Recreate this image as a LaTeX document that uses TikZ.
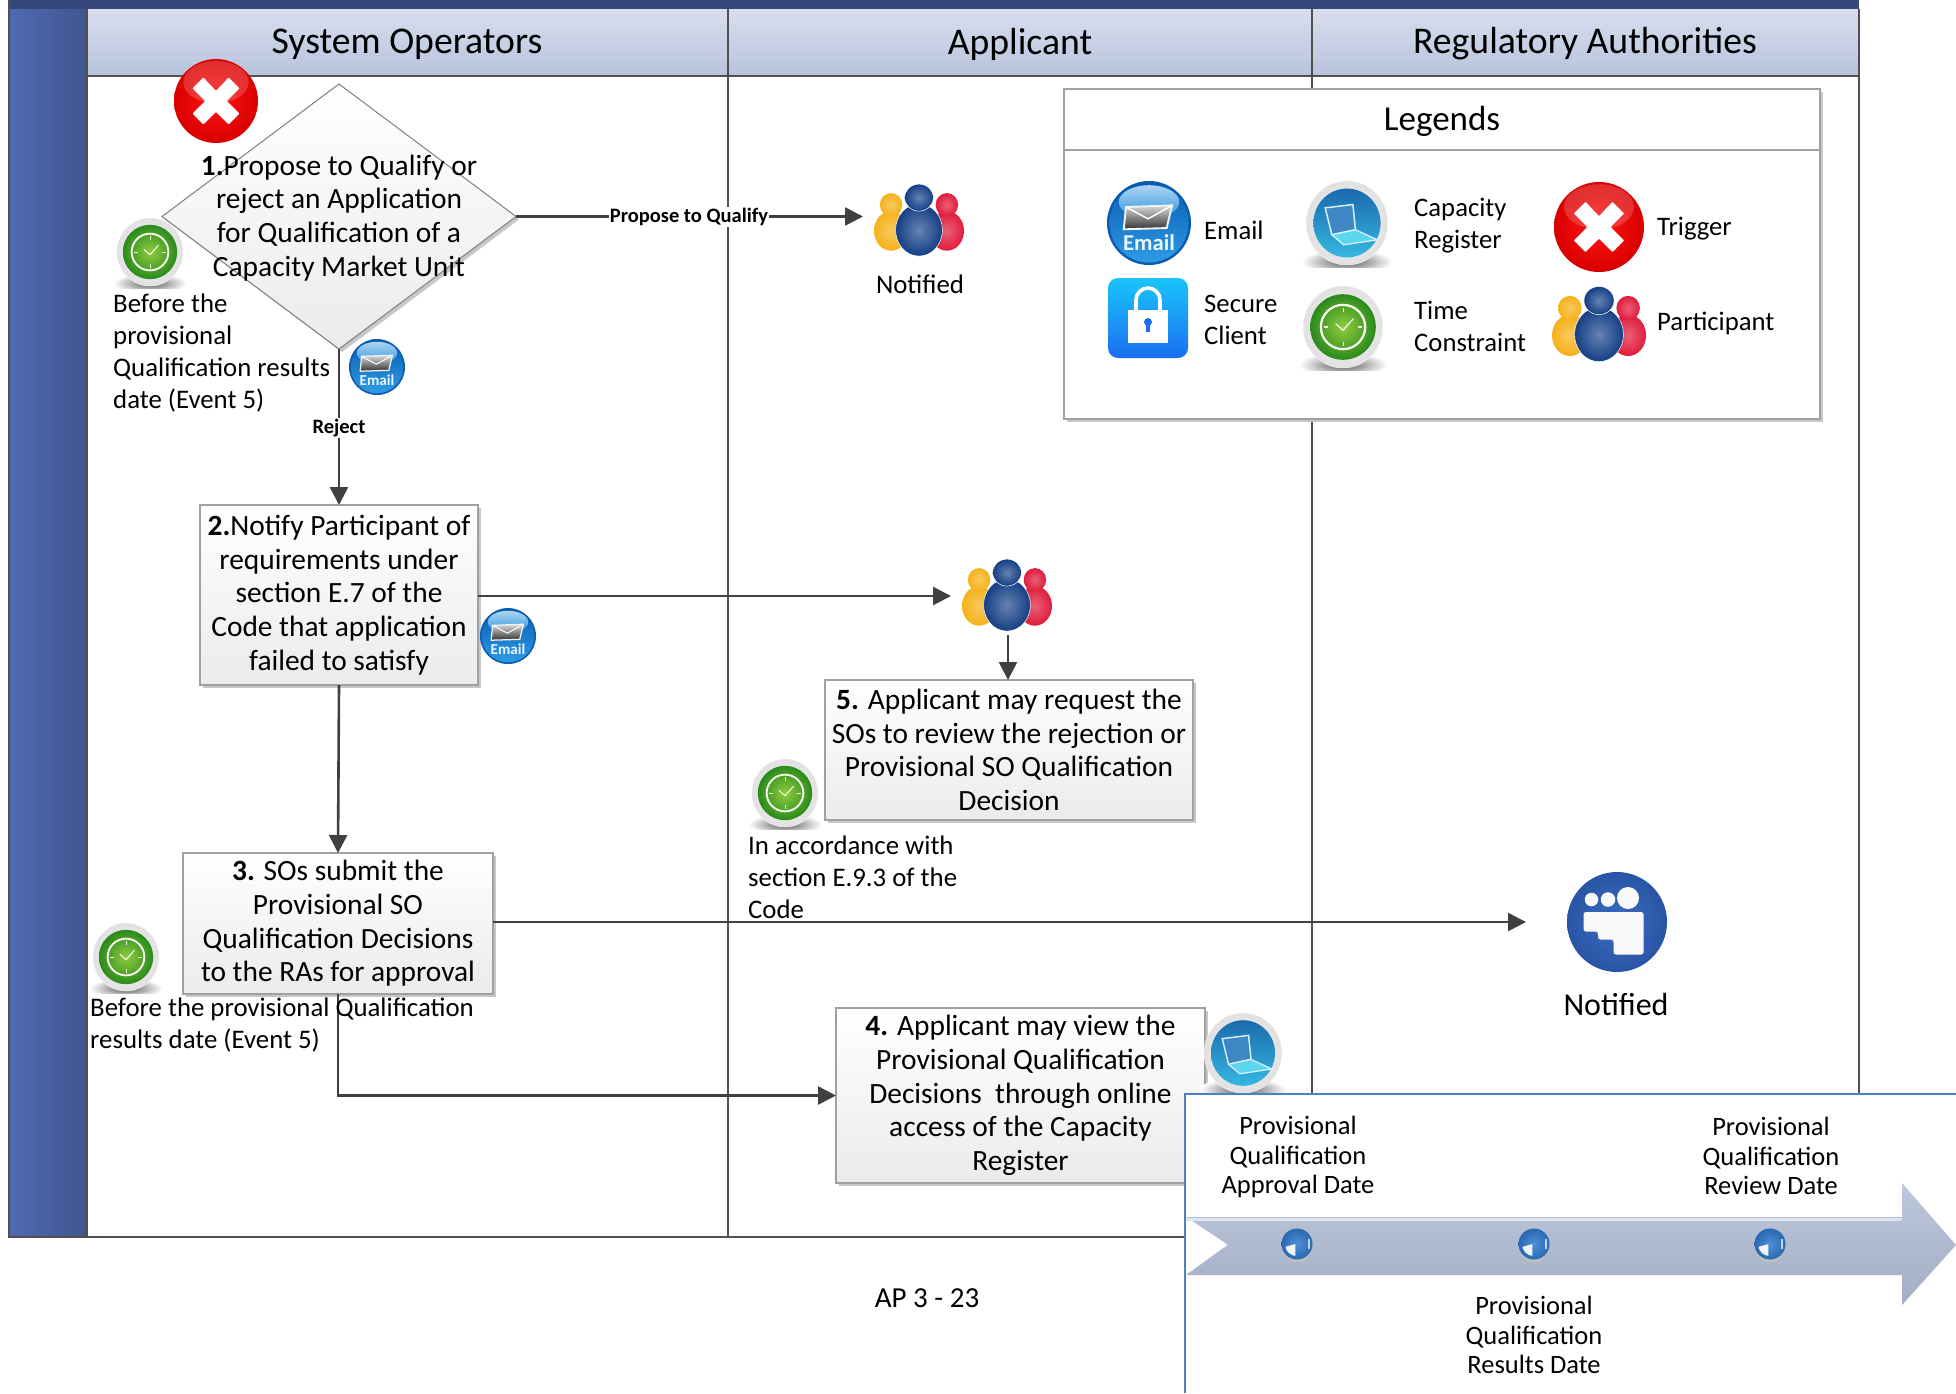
\documentclass[tikz,border=0pt]{standalone}
\usepackage{fontspec}
\setmainfont{Carlito}
\usetikzlibrary{arrows.meta,shadows,shapes.geometric}
\definecolor{barc}{HTML}{36477A}
\definecolor{bandl}{HTML}{5069B2}
\definecolor{bandr}{HTML}{40568F}
\definecolor{headt}{HTML}{D9DEEE}
\definecolor{headb}{HTML}{B7C3DC}
\definecolor{framec}{HTML}{505050}
\definecolor{edgec}{HTML}{A0A0A0}
\definecolor{boxb}{HTML}{EBEBEB}
\definecolor{panelc}{HTML}{4F81BD}
\definecolor{arrowt}{HTML}{BDC8DC}
\definecolor{arrowb}{HTML}{A3ADC3}
\definecolor{arrowl}{HTML}{DCE4F2}
\definecolor{clinec}{HTML}{404040}
\definecolor{mailedge}{HTML}{0A5CB0}
\definecolor{mailmid}{HTML}{2E9BE6}
\definecolor{locktop}{HTML}{1AC4FA}
\definecolor{lockbot}{HTML}{1B6FF0}
\definecolor{clockin}{HTML}{8FCC3F}
\definecolor{clockout}{HTML}{2A8A1C}
\definecolor{regtop}{HTML}{1A6AAD}
\definecolor{regbot}{HTML}{35B8E0}
\definecolor{regscreen}{HTML}{3E86C4}
\definecolor{regkeys}{HTML}{5CD6EE}
\definecolor{grpy}{HTML}{F5B21A}
\definecolor{grpr}{HTML}{E01C3C}
\definecolor{grpb}{HTML}{143F85}
\definecolor{peoin}{HTML}{3A6CC0}
\definecolor{peoout}{HTML}{2A55A5}
\definecolor{dotc}{HTML}{2F7BD0}
\newcommand\fStep{\fontsize{29.4}{33.7}\selectfont}
\newcommand\fHead{\fontsize{37.7}{42}\selectfont}
\newcommand\fNote{\fontsize{26.8}{31.8}\selectfont}
\newcommand\fLane{\fontsize{26.5}{29.5}\selectfont}
\newcommand\fLeg{\fontsize{26.7}{32}\selectfont}
\tikzset{
  x=1pt,y=-1pt,
  stepshape/.style={draw=edgec,line width=1.2pt,top color=white,bottom color=boxb,
    drop shadow={shadow xshift=3pt,shadow yshift=-3pt,fill=black!22,opacity=1},
    inner sep=0pt,outer sep=0pt,align=center,font=\fStep,text=black},
  notetext/.style={inner sep=0pt,anchor=west,align=left,font=\fNote,text=black},
  centertext/.style={inner sep=0pt,align=center,text=black},
  lanehead/.style={inner sep=0pt,font=\fHead,text=black},
  lane/.style={draw=framec,line width=2pt},
  flow/.style={draw=clinec,line width=2.6pt,-{Triangle[length=18pt,width=18pt]}},
  flowlabel/.style={inner sep=1pt,fill=white,font=\fontsize{20.5}{23}\selectfont\bfseries,text=black},
  iconspot/.style={circle,inner sep=0pt,outer sep=0pt,minimum size=#1},
  timelab/.style={inner sep=0pt,align=center,font=\fLane,text=black},
}
% icons: #1 x, #2 y, #3 radius
\newcommand\IconEmail[3]{\begin{scope}[shift={(#1,#2)},scale=#3]
  \fill[mailedge] (0,0) ellipse [x radius=1,y radius=1];
  \shade[top color=mailedge,bottom color=mailmid] (0,0) ellipse [x radius=.94,y radius=.94];
  \shade[top color=white!70!mailmid,bottom color=mailmid,opacity=.9] (0,-.5) ellipse [x radius=.72,y radius=.4];
  \shade[top color=gray!30,bottom color=black!80,draw=white!90!gray,line width=.045*#3 pt] (-.55,-.38)--(.55,-.42)--(.42,.12)--(-.6,.15)--cycle;
  \draw[white,line width=.035*#3 pt] (-.55,-.38)--(-.02,-.1)--(.55,-.42);
  \node[inner sep=0pt,text=white!90!mailmid,font=\fontsize{\dimexpr #3pt*54/100\relax}{\dimexpr #3pt*60/100\relax}\selectfont\bfseries] at (0,.46) {Email};
\end{scope}}
\newcommand\IconTrigger[3]{\begin{scope}[shift={(#1,#2)},scale=#3]
  \shade[inner color=red!92!white,outer color=red!85!black] (0,0) ellipse [x radius=1,y radius=1];
  \fill[white,opacity=.18] (0,-.45) ellipse [x radius=.78,y radius=.5];
  \fill[white,rounded corners=.02*#3 pt] (-.56,-.3)--(-.3,-.56)--(0,-.24)--(.3,-.56)--(.56,-.3)--(.26,0)--(.56,.3)--(.3,.56)--(0,.26)--(-.3,.56)--(-.56,.3)--(-.26,0)--cycle;
\end{scope}}
\newcommand\Ring{%
  \begin{scope}
    \clip (-1.08,.2) rectangle (1.08,1.07);
    \shade[inner color=black!65,outer color=white] (0,.92) ellipse [x radius=1.08,y radius=.3];
  \end{scope}
  \shade[inner color=gray!4,outer color=gray!24,draw=gray!10,line width=.5pt] (0,0) ellipse [x radius=.97,y radius=1];}
\newcommand\IconClock[3]{\begin{scope}[shift={(#1,#2)},scale=#3]
  \Ring
  \shade[inner color=clockin,outer color=clockout] (0,0) ellipse [x radius=.8,y radius=.8];
  \draw[white!92!clockin,line width=.055*#3 pt] (0,0) ellipse [x radius=.54,y radius=.54];
  \draw[white!90!clockin,line width=.03*#3 pt] (-.18,-.08)--(0,.08)--(.25,-.2);
  \foreach \a in {0,90,180,270}{\draw[white!85!clockin,line width=.025*#3 pt] (\a:.36)--(\a:.46);}
\end{scope}}
\newcommand\IconRegister[3]{\begin{scope}[shift={(#1,#2)},scale=#3]
  \Ring
  \shade[top color=regtop,bottom color=regbot] (0,0) ellipse [x radius=.8,y radius=.82];
  \draw[white!85!cyan,fill=regscreen,line width=.035*#3 pt] (-.52,-.36)--(.14,-.44)--(.2,.16)--(-.36,.28)--cycle;
  \draw[white!85!cyan,fill=regkeys,line width=.03*#3 pt] (-.36,.28)--(.2,.16)--(.72,.4)--(-.08,.52)--cycle;
\end{scope}}
\newcommand\IconGroup[3]{\begin{scope}[shift={(#1,#2)},scale=#3]
  \shade[inner color=grpy!70!white,outer color=grpy] (-.62,.22) ellipse [x radius=.38,y radius=.44];
  \shade[inner color=grpy!70!white,outer color=grpy] (-.62,-.36) ellipse [x radius=.25,y radius=.26];
  \shade[inner color=grpr!70!white,outer color=grpr] (.62,.22) ellipse [x radius=.38,y radius=.44];
  \shade[inner color=grpr!70!white,outer color=grpr] (.62,-.36) ellipse [x radius=.25,y radius=.26];
  \draw[white,line width=.5pt,inner color=grpb!65!white,outer color=grpb] (0,.2) ellipse [x radius=.52,y radius=.58];
  \draw[white,line width=.5pt,inner color=grpb!65!white,outer color=grpb] (0,-.52) ellipse [x radius=.32,y radius=.3];
\end{scope}}
\newcommand\IconLock[3]{\begin{scope}[shift={(#1,#2)},scale=#3]
  \shade[top color=locktop,bottom color=lockbot,rounded corners=.25*#3 pt] (-1,-1) rectangle (1,1);
  \draw[white,line width=.09*#3 pt] (-.3,-.15)--(-.3,-.45) arc[start angle=180,end angle=0,x radius=.3,y radius=-.3]--(.3,-.15);
  \fill[white] (-.5,-.2) rectangle (.5,.63);
  \fill[lockbot] (0,.1) circle [radius=.1];
  \fill[lockbot] (-.04,.1) rectangle (.04,.36);
\end{scope}}
\newcommand\IconPeople[3]{\begin{scope}[shift={(#1,#2)},scale=#3]
  \shade[inner color=peoin,outer color=peoout] (0,0) ellipse [x radius=1,y radius=1];
  \fill[white!95!gray] (-.51,-.45) circle [radius=.135];
  \fill[white!95!gray] (-.18,-.45) circle [radius=.145];
  \fill[white!95!gray] (.22,-.48) circle [radius=.22];
  \fill[white!95!gray,rounded corners=.05*#3 pt] (-.67,.19)--(-.67,-.2)--(.53,-.2)--(.53,.65)--(-.07,.65)--(-.07,.35)--(-.38,.35)--(-.38,.19)--cycle;
\end{scope}}
\newcommand\IconDot[3]{\begin{scope}[shift={(#1,#2)},scale=#3]
  \fill[black!25] (0,.15) ellipse [x radius=.98,y radius=1.02];
  \shade[inner color=dotc!85!white,outer color=dotc!85!black] (0,0) ellipse [x radius=1,y radius=1];
  \begin{scope}
    \clip (0,0) ellipse [x radius=.78,y radius=.78];
    \fill[white,opacity=.92] (-1,.25)--(-.1,0)--(-.1,1)--(-1,1)--cycle;
  \end{scope}
  \fill[white,opacity=.7] (.68,-.3) rectangle (.82,.35);
\end{scope}}
\begin{document}
\begin{tikzpicture}
\useasboundingbox (0,0) rectangle (1956,1393);
% swimlane frame
\path[left color=bandl,right color=bandr] (9,9) rectangle (87,1237);
\path[top color=headt,bottom color=headb] (87,9) rectangle (1859,76);
\fill[barc] (9,0) rectangle (1859,9);
\draw[lane] (9,0)--(9,1237)--(1859,1237)--(1859,9);
\draw[lane] (87,9)--(87,1237);
\draw[lane] (87,76)--(1859,76);
\draw[lane] (728,9)--(728,1237);
\draw[lane] (1312,9)--(1312,1237);
\node[lanehead] (hso) at (407,44) {System Operators};
\node[lanehead] (hap) at (1020,44) {Applicant};
\node[lanehead] (hra) at (1585,44) {Regulatory Authorities};
% legend
\node[draw=edgec,line width=1.3pt,fill=white,inner sep=0pt,minimum width=756pt,minimum height=330pt,
  drop shadow={shadow xshift=3pt,shadow yshift=-3pt,fill=black!22,opacity=1}] (legend) at (1442,254) {};
\coordinate (ldl) at (1442,150);
\draw[edgec,line width=1.3pt] (legend.west |- ldl) -- (legend.east |- ldl);
\node[centertext,font=\fontsize{35}{40}\selectfont] (legt) at (1442,121) {Legends};
\IconEmail{1149}{223}{42}
\IconRegister{1347}{223}{42}
\IconTrigger{1599}{227}{45}
\IconLock{1148}{318}{40}
\IconClock{1343}{327}{41}
\IconGroup{1599}{325}{47}
\node[notetext,font=\fLeg] (l1) at (1204,230) {Email};
\node[notetext,font=\fLeg] (l2) at (1414,226) {Capacity\\Register};
\node[notetext,font=\fLeg] (l3) at (1657,229) {Trigger};
\node[notetext,font=\fLeg] (l4) at (1204,320) {Secure\\Client};
\node[notetext,font=\fLeg] (l5) at (1414,326) {Time\\Constraint};
\node[notetext,font=\fLeg] (l6) at (1657,323) {Participant};
% flow nodes
\node[diamond,aspect=1.33,stepshape,minimum width=354pt,minimum height=265pt,draw=gray,line width=1pt] (d1) at (339,216.5) {};
\node[centertext,font=\fStep] (d1t) at (339,218) {\textbf{1.}Propose to Qualify or\\reject an Application\\for Qualification of a\\Capacity Market Unit};
\node[stepshape,minimum width=278pt,minimum height=180pt] (b2) at (339,595) {\textbf{2.}Notify Participant of\\requirements under\\section E.7 of the\\Code that application\\failed to satisfy};
\node[stepshape,minimum width=310pt,minimum height=141pt] (b3) at (338,923.5) {\textbf{3.} SOs submit the\\Provisional SO\\Qualification Decisions\\to the RAs for approval};
\node[stepshape,minimum width=369pt,minimum height=175pt] (b4) at (1020.5,1095.5) {\textbf{4.} Applicant may view the\\Provisional Qualification\\Decisions\ \ through online\\access of the Capacity\\Register};
\node[stepshape,minimum width=368pt,minimum height=140pt] (b5) at (1009,750) {\textbf{5.} Applicant may request the\\SOs to review the rejection or\\Provisional SO Qualification\\Decision};
\node[iconspot=112pt] (g1) at (919,221) {};
\node[iconspot=112pt] (g2) at (1007,596) {};
\node[iconspot=182pt] (n3) at (1617,922) {};
% connectors
\draw[flow] (d1.east) -- (d1.east -| g1.west);
\node[flowlabel] (lab1) at (689,217) {Propose to Qualify};
\draw[flow] (d1.south) -- (b2.north);
\node[flowlabel] (lab2) at (339,428) {Reject};
\draw[flow] (b2.east |- g2) -- (g2.west);
\coordinate (g2b) at (1008,635);
\draw[flow] (g2b) -- (b5.north -| g2b);
\draw[flow] (b2.south) -- (b3.north);
\draw[flow] (b3.east |- n3) -- (n3.west);
\draw[flow] (b3.south) -- (b3.south |- b4.west) -- (b4.west);
% icons on the flow
\IconTrigger{216}{101}{42}
\IconClock{150}{252}{34}
\IconEmail{377}{367}{28}
\IconEmail{508}{636}{28}
\IconGroup{919}{221}{45}
\IconGroup{1007}{596}{45}
\IconClock{785}{793}{34}
\IconClock{126}{957}{34}
\IconRegister{1243}{1053}{40}
\IconPeople{1617}{922}{50}
% notes
\node[notetext] (t1) at (113,353) {Before the\\provisional\\Qualification results\\date (Event 5)};
\node[centertext,font=\fNote] (t2) at (920,284) {Notified};
\node[notetext] (t3) at (748,877) {In accordance with\\section E.9.3 of the\\Code};
\node[notetext] (t4) at (90,1025) {Before the provisional Qualification\\results date (Event 5)};
\node[centertext,font=\fontsize{32}{36}\selectfont] (t5) at (1616,1004) {Notified};
\node[centertext,font=\fontsize{29}{34}\selectfont] (t6) at (927,1298) {AP 3 - 23};
% timeline panel
\fill[white] (1185,1093) rectangle (1956,1393);
\draw[panelc,line width=2pt] (1185,1393)--(1185,1094)--(1956,1094);
\shade[top color=arrowt,bottom color=arrowb] (1186,1217)--(1902,1217)--(1902,1183)--(1956,1245)--(1902,1305)--(1902,1275)--(1186,1275)--(1226,1246)--cycle;
\draw[arrowl,line width=3pt] (1186,1219)--(1902,1219);
\draw[white,line width=4pt] (1190,1222)--(1226,1246);
\IconDot{1297}{1244}{15.5}
\IconDot{1534}{1244}{15.5}
\IconDot{1770}{1244}{15.5}
\node[timelab] (e1) at (1298,1157) {Provisional\\Qualification\\Approval Date};
\node[timelab] (e2) at (1534,1335) {Provisional\\Qualification\\Results Date};
\node[timelab] (e3) at (1771,1156) {Provisional\\Qualification\\Review Date};
\end{tikzpicture}
\end{document}
